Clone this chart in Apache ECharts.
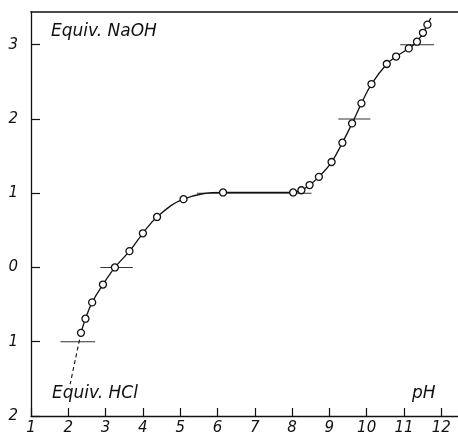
<!DOCTYPE html>
<html>
<head>
<meta charset="utf-8">
<script src="https://cdn.jsdelivr.net/npm/echarts@6/dist/echarts.min.js"></script>
<style>
  html, body { margin: 0; padding: 0; background: #fff; }
  #chart { width: 458px; height: 436px; }
</style>
</head>
<body>
<div id="chart"></div>
<script>
// titration points (pH, equivalents; negative = equiv. HCl)
var phValues = [2.34, 2.46, 2.64, 2.93, 3.25, 3.64, 4.00, 4.38, 5.09, 6.15,
                8.03, 8.25, 8.47, 8.72, 9.06, 9.35, 9.61, 9.86, 10.13, 10.54,
                10.79, 11.13, 11.35, 11.51, 11.63];
var equivValues = [-0.88, -0.69, -0.47, -0.23, 0.00, 0.22, 0.46, 0.68, 0.92, 1.01,
                   1.01, 1.04, 1.11, 1.22, 1.42, 1.68, 1.94, 2.21, 2.47, 2.74,
                   2.84, 2.95, 3.04, 3.16, 3.27];
// end of drawn curve beyond last point
var curveEnd = [11.72, 3.36];
// dashed extrapolation below first point
var dashedLine = [[2.34, -0.88], [2.05, -1.57]];
// short horizontal marks at whole equivalents
var markLevels = [-1, 0, 1, 2, 3];
var markFrom = [1.79, 2.86, 5.45, 9.24, 10.90];
var markTo = [2.72, 3.73, 8.52, 10.10, 11.81];
// tick labels
var xTicks = [1, 2, 3, 4, 5, 6, 7, 8, 9, 10, 11, 12];
var yTicks = [-2, -1, 0, 1, 2, 3];

function chart01(id) {
    var myChart = echarts.init(document.getElementById(id));
    var font = 'DejaVu Sans';

    var curve = phValues.map(function (p, i) { return [p, equivValues[i]]; });
    curve.push(curveEnd);

    var series = [];
    markLevels.forEach(function (lv, i) {
        series.push({
            type: 'line',
            data: [[markFrom[i], lv], [markTo[i], lv]],
            symbol: 'none',
            silent: true,
            lineStyle: { color: '#333', width: 1.1 }
        });
    });
    series.push({
        type: 'line',
        data: dashedLine,
        symbol: 'none',
        silent: true,
        lineStyle: { color: '#111', width: 1.1, type: [4, 3] }
    });
    series.push({
        type: 'line',
        data: curve,
        symbol: 'none',
        smooth: 0.4,
        lineStyle: { color: '#111', width: 1.3 }
    });
    series.push({
        type: 'scatter',
        data: curve.slice(0, phValues.length),
        symbol: 'circle',
        symbolSize: 7,
        itemStyle: { color: '#fff', borderColor: '#111', borderWidth: 1.3, opacity: 1 },
        z: 5
    });

    var option = {
        animation: false,
        backgroundColor: '#fff',
        grid: { left: 31, right: 0, top: 12, bottom: 20 },
        xAxis: [
            {
                type: 'value',
                min: 1,
                max: 12.45,
                axisLine: { show: true, onZero: false, lineStyle: { color: '#111', width: 1.3 } },
                axisTick: { show: true, inside: true, length: 8, customValues: xTicks, lineStyle: { color: '#111', width: 1.2 } },
                splitLine: { show: false },
                axisLabel: {
                    customValues: xTicks,
                    fontFamily: font,
                    fontStyle: 'italic',
                    fontSize: 15,
                    color: '#111',
                    margin: 5
                }
            },
            {
                type: 'value',
                position: 'top',
                min: 1,
                max: 12.45,
                axisLine: { show: true, onZero: false, lineStyle: { color: '#111', width: 1.6 } },
                axisTick: { show: false },
                axisLabel: { show: false },
                splitLine: { show: false }
            }
        ],
        yAxis: {
            type: 'value',
            min: -2,
            max: 3.44,
            axisLine: { show: true, onZero: false, lineStyle: { color: '#111', width: 1.3 } },
            axisTick: { show: true, inside: true, length: 9, customValues: yTicks, lineStyle: { color: '#111', width: 1.2 } },
            splitLine: { show: false },
            axisLabel: {
                customValues: yTicks,
                fontFamily: font,
                fontStyle: 'italic',
                fontSize: 15,
                color: '#111',
                margin: 13,
                formatter: function (v) { return String(Math.abs(v)); }
            }
        },
        graphic: [
            { type: 'text', left: 51, top: 23, style: { text: 'Equiv. NaOH', font: 'italic 17px "DejaVu Sans"', fill: '#111' } },
            { type: 'text', left: 52, top: 385, style: { text: 'Equiv. HCl', font: 'italic 17px "DejaVu Sans"', fill: '#111' } },
            { type: 'text', left: 412, top: 385, style: { text: 'pH', font: 'italic 17px "DejaVu Sans"', fill: '#111' } }
        ],
        series: series
    };

    myChart.setOption(option);
    return myChart;
}

var chartInit01 = chart01('chart');
</script>
</body>
</html>
